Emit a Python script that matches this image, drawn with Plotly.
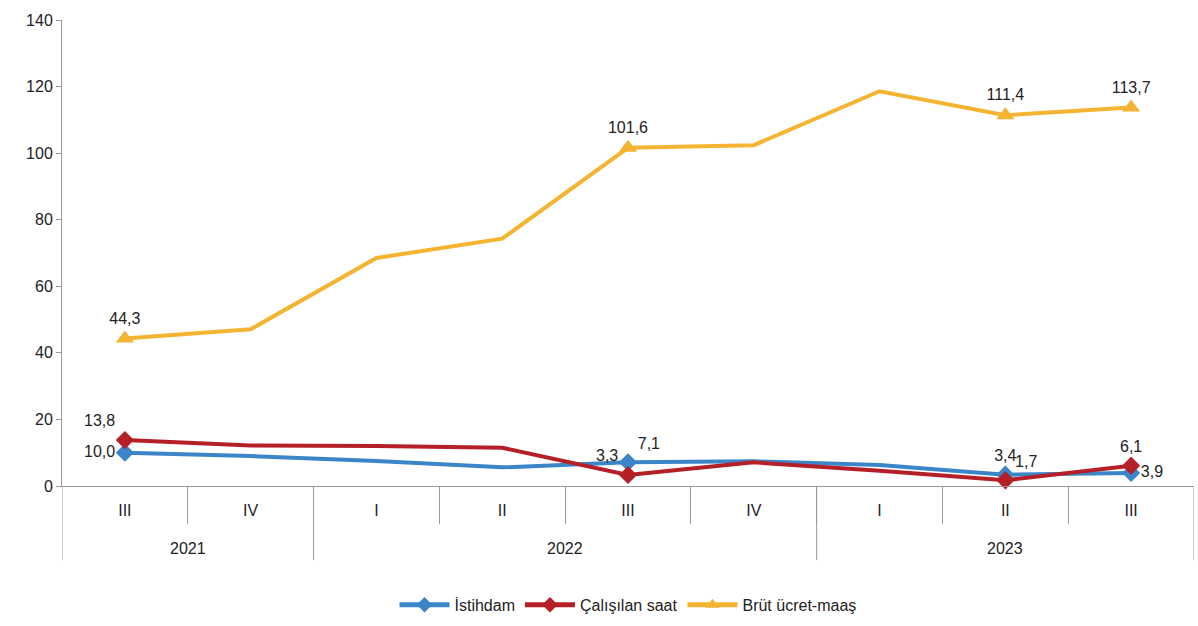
import plotly.graph_objects as go

years = ["2021", "2021", "2022", "2022", "2022", "2022", "2023", "2023", "2023"]
quarters = ["III", "IV", "I", "II", "III", "IV", "I", "II", "III"]

istihdam = [10.0, 9.0, 7.5, 5.6, 7.1, 7.4, 6.3, 3.4, 3.9]
calisilan_saat = [13.8, 12.2, 12.0, 11.5, 3.3, 7.1, 4.6, 1.7, 6.1]
brut_ucret = [44.3, 47.1, 68.5, 74.3, 101.6, 102.4, 118.6, 111.4, 113.7]

istihdam_labels = ["10,0", "", "", "", "7,1", "", "", "3,4", "3,9"]
saat_labels = ["13,8", "", "", "", "3,3", "", "", "1,7", "6,1"]
ucret_labels = ["44,3", "", "", "", "101,6", "", "", "111,4", "113,7"]

istihdam_pos = ["middle left", "top center", "top center", "top center", "top right",
                "top center", "top center", "top center", "middle right"]
saat_pos = ["top left", "top center", "top center", "top center", "top left",
            "top center", "top center", "top right", "top center"]
ucret_pos = ["top center"] * 9

xs = list(range(len(quarters)))
GRID = "#9a9a9a"


def sizes(labels, s):
    return [s if lab else 0 for lab in labels]


fig = go.Figure()
series = [
    ("İstihdam", istihdam, istihdam_labels, istihdam_pos, "#3A86C8", "diamond", 14),
    ("Çalışılan saat", calisilan_saat, saat_labels, saat_pos, "#B51F27", "diamond", 14),
    ("Brüt ücret-maaş", brut_ucret, ucret_labels, ucret_pos, "#F4B431", "triangle-up", 16),
]
for name, vals, labels, pos, color, symbol, msize in series:
    fig.add_trace(go.Scatter(
        x=xs, y=vals, name=name, mode="lines+markers+text",
        line=dict(color=color, width=4),
        marker=dict(symbol=symbol, size=sizes(labels, msize), color=color,
                    opacity=1, line=dict(width=0)),
        text=labels, textposition=pos,
        textfont=dict(size=16, color="#222"),
        cliponaxis=False,
    ))

# year group boundaries and labels
bounds = [-0.5]
for i in range(1, len(years)):
    if years[i] != years[i - 1]:
        bounds.append(i - 0.5)
bounds.append(len(years) - 0.5)
for b in bounds:
    fig.add_shape(type="line", xref="x", yref="paper", x0=b, x1=b, y0=0, y1=-0.159,
                  line=dict(color=GRID, width=1))
for i in range(len(bounds) - 1):
    mid = (bounds[i] + bounds[i + 1]) / 2
    fig.add_annotation(x=mid, xref="x", y=0, yref="paper", yanchor="middle", yshift=-62,
                       text=years[int(bounds[i] + 0.5)], showarrow=False,
                       font=dict(size=16, color="#222"))

fig.update_layout(
    width=1198, height=626,
    paper_bgcolor="white", plot_bgcolor="white",
    font=dict(family="Liberation Sans, Arial, sans-serif", size=16, color="#222"),
    margin=dict(l=62, r=4, t=20, b=140),
    showlegend=True,
    legend=dict(orientation="h", x=0.5, xanchor="center", y=-0.255, yanchor="middle",
                font=dict(size=16), itemsizing="constant", itemwidth=50,
                traceorder="normal"),
    xaxis=dict(
        range=[-0.5, len(quarters) - 0.5], tickvals=xs, ticktext=quarters,
        showline=True, linecolor=GRID, linewidth=1, automargin=False,
        ticks="", ticklabelstandoff=10, showgrid=False, zeroline=False,
        tickfont=dict(size=16),
        minor=dict(tickvals=[i + 0.5 for i in xs[:-1]], ticks="outside",
                   ticklen=37, tickcolor=GRID, showgrid=False),
    ),
    yaxis=dict(
        range=[0, 140], dtick=20, showline=True, linecolor=GRID, linewidth=1,
        ticks="outside", ticklen=5, tickcolor=GRID, showgrid=False, automargin=False,
        zeroline=False, tickfont=dict(size=16),
    ),
)

# drop the default page margin so the figure fills the window
fig.write_html("out.html", config={"displayModeBar": False},
               post_script="document.body.style.margin='0';document.body.style.overflow='hidden';")
